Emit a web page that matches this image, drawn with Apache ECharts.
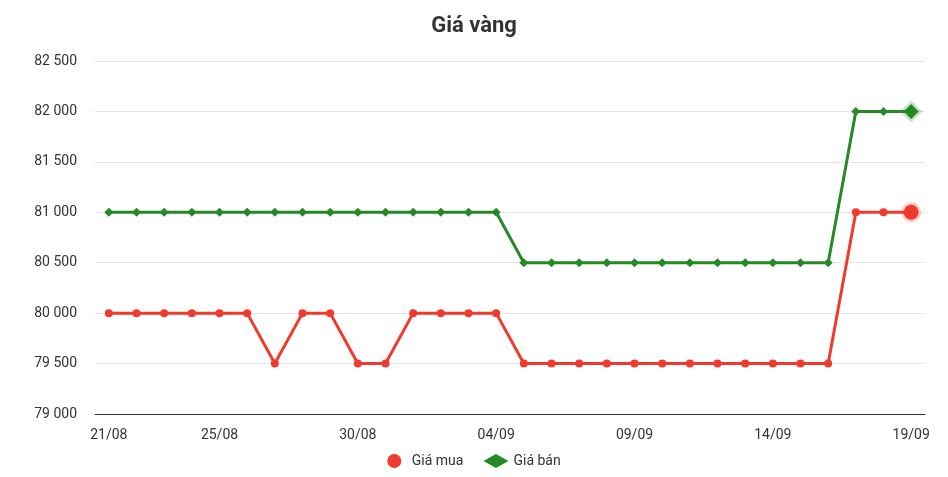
<!DOCTYPE html>
<html><head><meta charset="utf-8">
<script src="https://cdn.jsdelivr.net/npm/echarts@6/dist/echarts.min.js"></script>
<style>html,body{margin:0;padding:0;background:#fff}#c{width:948px;height:477px}</style>
</head><body><div id="c"></div>
<script>
const dates = ['21/08','22/08','23/08','24/08','25/08','26/08','27/08','28/08','29/08','30/08','31/08',
  '01/09','02/09','03/09','04/09','05/09','06/09','07/09','08/09','09/09','10/09','11/09','12/09','13/09',
  '14/09','15/09','16/09','17/09','18/09','19/09']
const buy = [80000,80000,80000,80000,80000,80000,79500,80000,80000,79500,79500,
  80000,80000,80000,80000,79500,79500,79500,79500,79500,79500,79500,79500,79500,
  79500,79500,79500,81000,81000,81000]
const sell = [81000,81000,81000,81000,81000,81000,81000,81000,81000,81000,81000,
  81000,81000,81000,81000,80500,80500,80500,80500,80500,80500,80500,80500,80500,
  80500,80500,80500,82000,82000,82000]
const shownLabels = [0,4,9,14,19,24,29]

const lastBig = (arr, color, halo) => arr.map((v, i) => i === arr.length - 1
  ? { value: v, symbolSize: 15, itemStyle: { color: color, borderColor: halo, borderWidth: 5 } }
  : v)

const chart = echarts.init(document.getElementById('c'))
chart.setOption({
  animation: false,
  textStyle: { fontFamily: 'Roboto, "Noto Sans", sans-serif' },
  title: { text: 'Giá vàng', left: 'center', top: 10,
    textStyle: { fontSize: 22, fontWeight: 'bold', color: '#333' } },
  legend: { bottom: 4, itemGap: 20, textStyle: { fontSize: 14, color: '#333' },
    data: [{ name: 'Giá mua', icon: 'circle' }, { name: 'Giá bán', icon: 'diamond' }] },
  grid: { left: 95, right: 23, top: 61, bottom: 63 },
  xAxis: {
    type: 'category', data: dates, boundaryGap: true,
    axisLine: { lineStyle: { color: '#333' } },
    axisTick: { show: false },
    axisLabel: { color: '#333', fontSize: 14, margin: 14,
      interval: (i) => shownLabels.includes(i) }
  },
  yAxis: {
    type: 'value', min: 79000, max: 82500, interval: 500,
    axisLabel: { color: '#333', fontSize: 14, margin: 18,
      formatter: v => String(v).replace(/\B(?=(\d{3})+(?!\d))/g, ' ') },
    splitLine: { lineStyle: { color: '#e6e6e6' } }
  },
  series: [
    { name: 'Giá mua', type: 'line', data: lastBig(buy, '#f03a2e', 'rgba(240,58,46,0.25)'),
      color: '#f03a2e', symbol: 'circle', symbolSize: 8, lineStyle: { width: 3 } },
    { name: 'Giá bán', type: 'line', data: lastBig(sell, '#258a26', 'rgba(37,138,38,0.25)'),
      color: '#258a26', symbol: 'diamond', symbolSize: 9, lineStyle: { width: 3 } }
  ]
})
</script></body></html>
